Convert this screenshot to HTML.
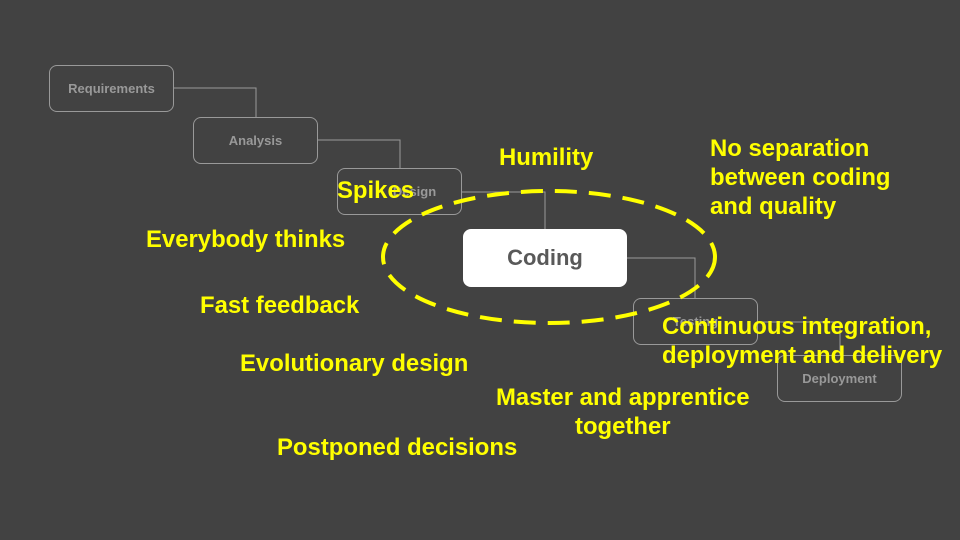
<!DOCTYPE html>
<html><head><style>
body{margin:0;width:960px;height:540px;background:#424242;overflow:hidden;position:relative;font-family:"Liberation Sans",sans-serif}
.b{position:absolute;border:1px solid #999;border-radius:8px;color:#999;font-weight:bold;font-size:13px;display:flex;align-items:center;justify-content:center;box-sizing:border-box;width:125px;height:47px}
.t{position:absolute;color:#ffff00;font-weight:bold;font-size:23.9px;line-height:29px;white-space:nowrap}
</style></head><body>
<svg width="960" height="540" style="position:absolute;left:0;top:0">
<g fill="none" stroke="#999" stroke-width="1">
<polyline points="174,88 256,88 256,117"/>
<polyline points="318,140 400,140 400,168"/>
<polyline points="462,192 545,192 545,229"/>
<polyline points="627,258 695,258 695,298"/>
<polyline points="758,322 840,322 840,355"/>
</g>
</svg>
<div class="b" style="left:49px;top:65px">Requirements</div>
<div class="b" style="left:193px;top:117px">Analysis</div>
<div class="b" style="left:337px;top:168px;padding-left:30px">Design</div>
<div class="b" style="left:633px;top:298px">Testing</div>
<div class="b" style="left:777px;top:355px">Deployment</div>
<div class="b" style="left:463px;top:229px;width:164px;height:58px;background:#fff;border:none;color:#595959;font-size:22px">Coding</div>
<svg width="960" height="540" style="position:absolute;left:0;top:0">
<ellipse cx="549" cy="257" rx="166" ry="66" fill="none" stroke="#ffff00" stroke-width="4" stroke-dasharray="22,12"/>
</svg>
<div class="t" style="left:499px;top:143px">Humility</div>
<div class="t" style="left:710px;top:134px">No separation<br>between coding<br>and quality</div>
<div class="t" style="left:337px;top:176px">Spikes</div>
<div class="t" style="left:146px;top:225px">Everybody thinks</div>
<div class="t" style="left:200px;top:291px">Fast feedback</div>
<div class="t" style="left:240px;top:349px">Evolutionary design</div>
<div class="t" style="left:277px;top:433px">Postponed decisions</div>
<div class="t" style="left:496px;top:383px;text-align:center">Master and apprentice<br>together</div>
<div class="t" style="left:662px;top:312px">Continuous integration,<br>deployment and delivery</div>
</body></html>
